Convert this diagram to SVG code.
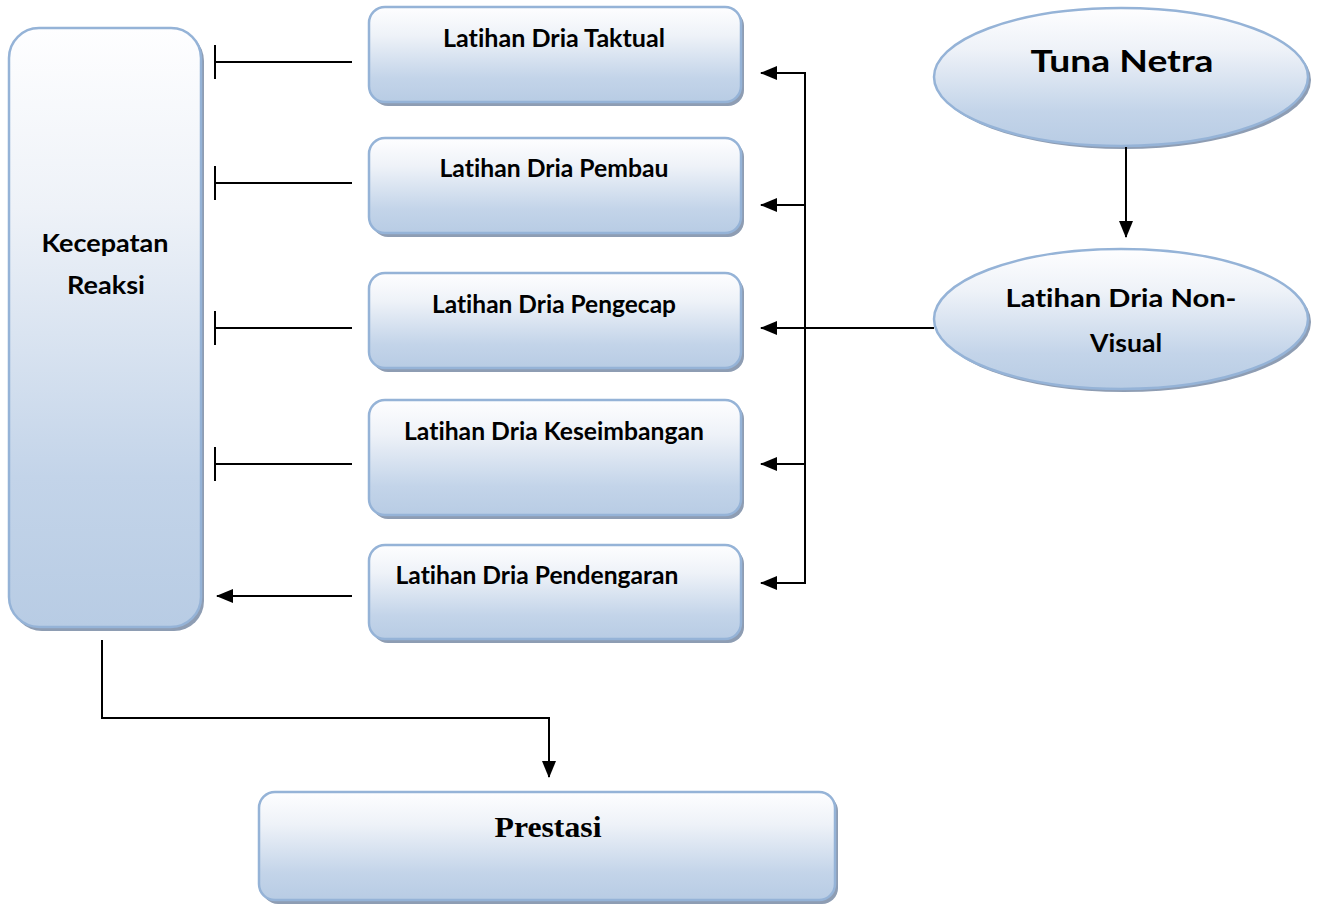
<svg xmlns="http://www.w3.org/2000/svg" width="1321" height="905" viewBox="0 0 1321 905">
<defs>
<linearGradient id="g" x1="0" y1="0" x2="0" y2="1">
<stop offset="0" stop-color="#fefeff"/>
<stop offset="0.3" stop-color="#eef2f8"/>
<stop offset="0.75" stop-color="#c3d4e9"/>
<stop offset="1" stop-color="#b8cce4"/>
</linearGradient>
<marker id="arr" viewBox="0 0 17 14" refX="16" refY="7" markerWidth="17" markerHeight="14" markerUnits="userSpaceOnUse" orient="auto">
<path d="M0,0 L17,7 L0,14 Z" fill="#000"/>
</marker>
</defs>
<style>
.box{fill:url(#g);stroke:#95b3d7;stroke-width:2.5}
.sh{fill:#8e9db3}
.t{font-family:Lato,"Open Sans","Liberation Sans",sans-serif;font-weight:bold;fill:#000;text-anchor:middle;font-variant-ligatures:none}
.c{fill:none;stroke:#000;stroke-width:2}
</style>
<rect width="1321" height="905" fill="#fff"/>
<g id="kecepatan">
<rect class="sh" x="12" y="31" width="192" height="600" rx="30"/>
<rect class="box" x="9" y="28" width="192" height="599" rx="30"/>
<text class="t" x="105" y="252" font-size="24" textLength="127" lengthAdjust="spacingAndGlyphs">Kecepatan</text>
<text class="t" x="106" y="294" font-size="24" textLength="78" lengthAdjust="spacingAndGlyphs">Reaksi</text>
</g>
<g id="taktual">
<rect class="sh" x="372" y="10" width="372" height="96" rx="16"/>
<rect class="box" x="369" y="7" width="372" height="95" rx="16"/>
<text class="t" x="554" y="47" font-size="24" textLength="222" lengthAdjust="spacingAndGlyphs">Latihan Dria Taktual</text>
</g>
<g id="pembau">
<rect class="sh" x="372" y="141" width="372" height="96" rx="16"/>
<rect class="box" x="369" y="138" width="372" height="95" rx="16"/>
<text class="t" x="554" y="177" font-size="24" textLength="229" lengthAdjust="spacingAndGlyphs">Latihan Dria Pembau</text>
</g>
<g id="pengecap">
<rect class="sh" x="372" y="276" width="372" height="96" rx="16"/>
<rect class="box" x="369" y="273" width="372" height="95" rx="16"/>
<text class="t" x="554" y="313" font-size="24" textLength="244" lengthAdjust="spacingAndGlyphs">Latihan Dria Pengecap</text>
</g>
<g id="keseimbangan">
<rect class="sh" x="372" y="403" width="372" height="116" rx="16"/>
<rect class="box" x="369" y="400" width="372" height="115" rx="16"/>
<text class="t" x="554" y="440" font-size="24" textLength="300" lengthAdjust="spacingAndGlyphs">Latihan Dria Keseimbangan</text>
</g>
<g id="pendengaran">
<rect class="sh" x="372" y="548" width="372" height="95" rx="16"/>
<rect class="box" x="369" y="545" width="372" height="94" rx="16"/>
<text class="t" x="537" y="584" font-size="24" textLength="283" lengthAdjust="spacingAndGlyphs">Latihan Dria Pendengaran</text>
</g>
<g id="tunanetra">
<ellipse class="sh" cx="1124" cy="80" rx="187" ry="69"/>
<ellipse class="box" cx="1121" cy="77" rx="187" ry="69"/>
<text class="t" x="1122" y="72" font-size="31" textLength="183" lengthAdjust="spacingAndGlyphs">Tuna Netra</text>
</g>
<g id="nonvisual">
<ellipse class="sh" cx="1124" cy="322" rx="187" ry="70"/>
<ellipse class="box" cx="1121" cy="319" rx="187" ry="70"/>
<text class="t" x="1121" y="307" font-size="24" textLength="231" lengthAdjust="spacingAndGlyphs">Latihan Dria Non-</text>
<text class="t" x="1126" y="352" font-size="24" textLength="72" lengthAdjust="spacingAndGlyphs">Visual</text>
</g>
<g id="prestasi">
<rect class="sh" x="262" y="795" width="576" height="109" rx="16"/>
<rect class="box" x="259" y="792" width="576" height="108" rx="16"/>
<text x="548" y="837" font-family="'Liberation Serif','Times New Roman',serif" font-weight="bold" font-size="30" text-anchor="middle" textLength="107" lengthAdjust="spacingAndGlyphs">Prestasi</text>
</g>
<g id="connectors">
<line class="c" x1="1126" y1="147" x2="1126" y2="237" marker-end="url(#arr)"/>
<line class="c" x1="934" y1="328" x2="761" y2="328" marker-end="url(#arr)"/>
<line class="c" x1="805" y1="72" x2="805" y2="584"/>
<line class="c" x1="806" y1="73" x2="761" y2="73" marker-end="url(#arr)"/>
<line class="c" x1="806" y1="205" x2="761" y2="205" marker-end="url(#arr)"/>
<line class="c" x1="806" y1="464" x2="761" y2="464" marker-end="url(#arr)"/>
<line class="c" x1="806" y1="583" x2="761" y2="583" marker-end="url(#arr)"/>
<path class="c" d="M352,62 H215 M215,45 V79"/>
<path class="c" d="M352,183 H215 M215,166 V200"/>
<path class="c" d="M352,328 H215 M215,311 V345"/>
<path class="c" d="M352,464 H215 M215,447 V481"/>
<line class="c" x1="352" y1="596" x2="217" y2="596" marker-end="url(#arr)"/>
<path class="c" d="M102,640 V718 H549 V777" marker-end="url(#arr)"/>
</g>
</svg>
